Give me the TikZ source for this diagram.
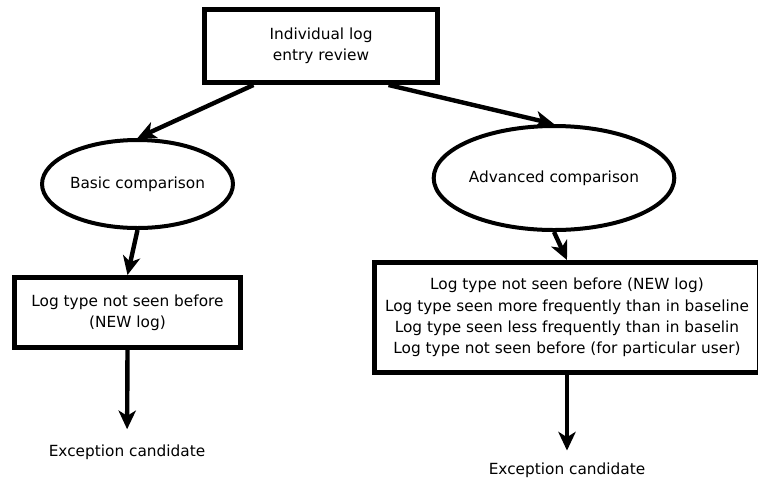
\documentclass[tikz,border=0pt]{standalone}
\usepackage{fontspec}
\setmainfont{DejaVu Sans}
\usetikzlibrary{arrows.meta,shapes.geometric}
\tikzset{
	rbox/.style={draw, line width=3.75pt, align=center, inner sep=0pt},
	oval/.style={draw, ellipse, line width=3pt, inner sep=0pt},
	arr/.style={line width=3.3pt, -{Stealth[length=14pt,width=13pt,inset=4pt]}}
}
\begin{document}
\begin{tikzpicture}[x=0.75pt, y=-0.75pt, font=\fontsize{11.5pt}{16pt}\selectfont]
			\useasboundingbox (0,0) rectangle (758,480);
			\node[rbox, minimum width=174.75pt, minimum height=54.75pt] (review) at (321,46) {Individual log\\entry review};
			\node[oval, minimum width=135.75pt, minimum height=66pt] (basic) at (137.5,184) {Basic comparison};
			\node[oval, minimum width=156pt, minimum height=78pt] (advanced) at (554,178) {Advanced comparison};
			\node[rbox, minimum width=169.5pt, minimum height=52.5pt] (newlog) at (127.5,312.5) {Log type not seen before\\(NEW log)};
			\node[rbox, minimum width=288.75pt, minimum height=82.5pt] (details) at (567,317.5) {Log type not seen before (NEW log)\\Log type seen more frequently than in baseline\\Log type seen less frequently than in baselin\\Log type not seen before (for particular user)};
			\node (exc1) at (127,452) {Exception candidate};
			\node (exc2) at (567,470) {Exception candidate};
			\draw[arr] (review.210) -- (basic.north);
			\draw[arr] (review.-30) -- (advanced.north);
			\draw[arr] (basic.south) -- (newlog.north);
			\draw[arr] (advanced.south) -- (details.north);
			\draw[arr, shorten >=8pt] (newlog.south) -- (exc1);
			\draw[arr, shorten >=5.5pt] (details.south) -- (exc2);
		\end{tikzpicture}
\end{document}
